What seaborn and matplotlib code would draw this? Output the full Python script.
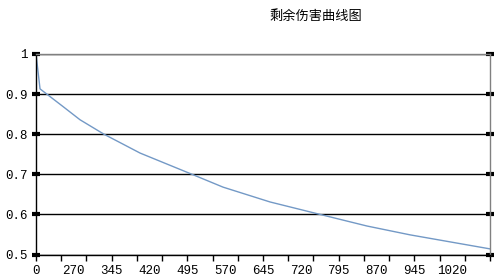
import matplotlib
matplotlib.use("Agg")
import matplotlib.pyplot as plt
import seaborn as sns
import pandas as pd

# ---- data (x in category-index units, 0..36) ----
x_pos = [0, 0.32, 2.14, 3.49, 5.39, 8.25, 12.37, 14.83, 18.56, 22.52, 26.25, 29.66, 36]
damage = [1.0, 0.913, 0.869, 0.836, 0.80, 0.753, 0.70, 0.668, 0.631, 0.60, 0.571, 0.549, 0.514]

x_label_pos = [0, 3, 6, 9, 12, 15, 18, 21, 24, 27, 30, 33]
x_labels = ['0', '270', '345', '420', '495', '570', '645', '720', '795', '870', '945', '1020']
x_tick_pos = list(range(0, 37, 2))

y_ticks = [0.5, 0.6, 0.7, 0.8, 0.9, 1.0]
y_labels = ['0.5', '0.6', '0.7', '0.8', '0.9', '1']

title = '剩余伤害曲线图'

sns.set_theme(style='white')
plt.rcParams['font.family'] = ['Noto Sans CJK SC', 'DejaVu Sans']

df = pd.DataFrame({'x': x_pos, 'y': damage})

fig = plt.figure(figsize=(4.96, 2.8), dpi=100)
fig.patch.set_facecolor('white')
ax = fig.add_axes([36 / 496, (280 - 254.5) / 280, 454 / 496, 200.5 / 280])
ax.set_facecolor('white')

sns.lineplot(data=df, x='x', y='y', ax=ax, color='#7399C6', lw=1, sort=False)

ax.set_xlim(0, 36)
ax.set_ylim(0.5, 1.0)
ax.set_xlabel('')
ax.set_ylabel('')

# grid
ax.set_axisbelow(True)
ax.yaxis.grid(True, color='black', lw=1)
ax.xaxis.grid(False)

# spines
for s in ['left', 'bottom']:
    ax.spines[s].set_color('black')
    ax.spines[s].set_linewidth(1)
for s in ['top', 'right']:
    ax.spines[s].set_color('#808080')
    ax.spines[s].set_linewidth(1)
    ax.spines[s].set_visible(True)

# y ticks: square handles both sides
ax.set_yticks(y_ticks)
ax.set_yticklabels(y_labels, family='Liberation Mono', fontsize=9, color='black')
ax.tick_params(axis='y', which='major', left=True, right=True, direction='inout',
               length=6, width=3, color='black', pad=3)

# x ticks: marks on major, labels on minor
ax.xaxis.remove_overlapping_locs = False
ax.set_xticks(x_tick_pos)
ax.set_xticklabels([])
ax.set_xticks(x_label_pos, minor=True)
ax.set_xticklabels(x_labels, minor=True, family='Liberation Mono', fontsize=9, color='black')
ax.tick_params(axis='x', which='major', bottom=True, direction='out', length=4,
               width=1, color='black')
ax.tick_params(axis='x', which='minor', bottom=True, length=0, pad=7.5)

fig.text(316 / 496, 1 - 16 / 280, title, ha='center', va='center', fontsize=9.5,
         color='black')

fig.savefig('out.png', dpi=100)
